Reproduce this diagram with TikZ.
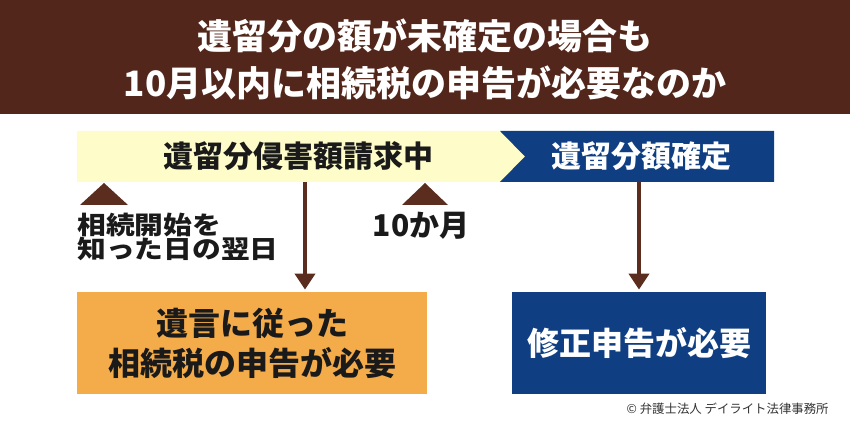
\documentclass[tikz,border=0pt]{standalone}
\usepackage{fontspec}
\setmainfont{Noto Sans CJK JP}
\newfontfamily\widejp{Noto Sans CJK JP}[FakeStretch=1.15]
\usepackage{xcolor}
\usepackage{tikz}
\usetikzlibrary{arrows.meta, positioning}
\definecolor{ibrown}{HTML}{52261A}
\definecolor{ibrownmid}{HTML}{5A2D1E}
\definecolor{iyellow}{HTML}{FEFDCA}
\definecolor{iblue}{HTML}{0F3F82}
\definecolor{iorange}{HTML}{F4AC4B}
\definecolor{iink}{HTML}{1A1A1A}
\definecolor{igray}{HTML}{333333}

\begin{document}
\begin{tikzpicture}[x=0.5pt, y=0.5pt,
  downarr/.style={ibrownmid, line width=2.4pt, -{Triangle[length=8pt,width=10pt]}},
  resultbox/.style={minimum height=51pt, inner sep=0pt, align=center,
    font=\fontsize{16}{20}\selectfont\bfseries}]

  \useasboundingbox (0,0) rectangle (850,432);

  %% Title band
  \fill[ibrown] (0,318) rectangle (850,432);
  \node[font=\fontsize{17.5}{23.5}\selectfont\bfseries, text=white, align=center] (title) at (425,373)
    {遺留分の額が未確定の場合も\\10月以内に相続税の申告が必要なのか};

  %% Period bar
  \fill[iyellow] (77,250) -- (500,250) -- (525,275.5) -- (500,301) -- (77,301) -- cycle;
  \fill[iblue] (500,250) -- (774,250) -- (774,301) -- (500,301) -- (525,275.5) -- cycle;
  \node[font=\fontsize{15}{15}\selectfont\bfseries, text=iink] (claim) at (298,275.5) {遺留分侵害額請求中};
  \node[font=\fontsize{15}{15}\selectfont\bfseries, text=white] (fixed) at (641,275.5) {遺留分額確定};

  %% Markers
  \fill[ibrownmid] (80,227) -- (104,249) -- (128,227) -- cycle;
  \fill[ibrownmid] (402,227) -- (425,249) -- (448,227) -- cycle;
  \node[font=\widejp\fontsize{12.5}{12}\selectfont\bfseries, text=iink, align=left, anchor=north west, inner sep=0pt] (start) at (77,219)
    {相続開始を\\知った日の翌日};
  \node[font=\fontsize{15}{15}\selectfont\bfseries, text=iink] (tenm) at (421,206) {10か月};

  %% Results
  \node[resultbox, fill=iorange, text=iink, minimum width=175pt] (follow) at (252,89)
    {遺言に従った\\相続税の申告が必要};
  \node[resultbox, fill=iblue, text=white, minimum width=127pt] (amend) at (639,89)
    {修正申告が必要};

  %% Arrows
  \coordinate (a1) at (305,250);
  \coordinate (a2) at (639,250);
  \draw[downarr, shorten >=1pt] (a1) -- (a1 |- follow.north);
  \draw[downarr, shorten >=1pt] (a2) -- (amend.north);

  %% Credit
  \node[font=\fontsize{6.2}{6.2}\selectfont, text=igray, anchor=east, inner sep=0pt] (credit) at (829,23)
    {© 弁護士法人 デイライト法律事務所};

\end{tikzpicture}
\end{document}
